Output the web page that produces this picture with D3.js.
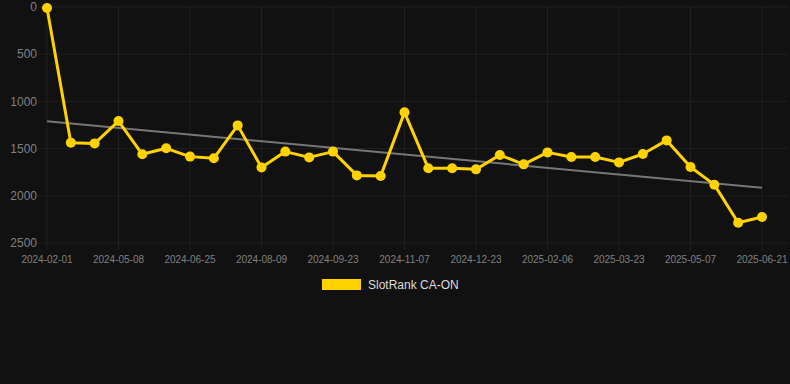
<!DOCTYPE html>
<html>
<head>
<meta charset="utf-8">
<script src="https://cdn.jsdelivr.net/npm/d3@7"></script>
<style>
  body { margin: 0; background: #111111; }
  svg { display: block; font-family: "Liberation Sans", Arial, sans-serif; }
</style>
</head>
<body>
<div id="chart"></div>
<script>
// dates (one point every ~15 days), labels shown every 3rd point
const dates = [
  "2024-02-01", "2024-03-04", "2024-04-06", "2024-05-08", "2024-05-24", "2024-06-09",
  "2024-06-25", "2024-07-10", "2024-07-25", "2024-08-09", "2024-08-24", "2024-09-08",
  "2024-09-23", "2024-10-08", "2024-10-23", "2024-11-07", "2024-11-22", "2024-12-08",
  "2024-12-23", "2025-01-07", "2025-01-22", "2025-02-06", "2025-02-21", "2025-03-08",
  "2025-03-23", "2025-04-07", "2025-04-22", "2025-05-07", "2025-05-22", "2025-06-06",
  "2025-06-21"
];
const rank = [
  10, 1437, 1445, 1208, 1560, 1497, 1585, 1603, 1254, 1699, 1532, 1593, 1532, 1784,
  1790, 1116, 1709, 1709, 1720, 1568, 1667, 1540, 1589, 1589, 1646, 1557, 1413, 1695,
  1882, 2285, 2225
];
const yTicks = [0, 500, 1000, 1500, 2000, 2500];
const seriesName = "SlotRank CA-ON";

const W = 790, H = 384;
const plot = {left: 47, right: 762, top: 7, bottom: 243};
const gold = "#ffd200";

const svg = d3.select("#chart").append("svg")
    .attr("width", W).attr("height", H);

svg.append("rect").attr("width", W).attr("height", H).attr("fill", "#111111");

const x = d3.scalePoint().domain(dates).range([plot.left, plot.right]);
const y = d3.scaleLinear().domain([0, 2500]).range([plot.top, plot.bottom]);

const labelDates = dates.filter((d, i) => i % 3 === 0);

// grid
svg.append("g").selectAll("line").data(yTicks).enter().append("line")
    .attr("x1", 38).attr("x2", 788)
    .attr("y1", d => y(d)).attr("y2", d => y(d))
    .attr("stroke", "#1f1f1f").attr("stroke-width", 1);

svg.append("g").selectAll("line").data(labelDates).enter().append("line")
    .attr("x1", d => x(d)).attr("x2", d => x(d))
    .attr("y1", plot.top).attr("y2", plot.bottom + 7)
    .attr("stroke", "#1f1f1f").attr("stroke-width", 1);

// y labels
svg.append("g").selectAll("text").data(yTicks).enter().append("text")
    .attr("x", 37).attr("y", d => y(d))
    .attr("dy", "0.35em")
    .attr("text-anchor", "end")
    .attr("fill", "#808080")
    .style("font-size", "12px")
    .text(d => d);

// x labels
svg.append("g").selectAll("text").data(labelDates).enter().append("text")
    .attr("x", d => x(d)).attr("y", 259)
    .attr("dy", "0.35em")
    .attr("text-anchor", "middle")
    .attr("fill", "#808080")
    .style("font-size", "10px")
    .text(d => d);

// trend line (least squares over index)
const n = rank.length;
const mx = d3.mean(rank, (d, i) => i);
const my = d3.mean(rank);
let sxy = 0, sxx = 0;
rank.forEach((v, i) => { sxy += (i - mx) * (v - my); sxx += (i - mx) * (i - mx); });
const slope = sxy / sxx, icpt = my - slope * mx;

svg.append("line")
    .attr("x1", x(dates[0])).attr("y1", y(icpt))
    .attr("x2", x(dates[n - 1])).attr("y2", y(icpt + slope * (n - 1)))
    .attr("stroke", "#777777").attr("stroke-width", 2);

// series
const line = d3.line()
    .x((d, i) => x(dates[i]))
    .y(d => y(d));

svg.append("path").datum(rank)
    .attr("d", line)
    .attr("fill", "none")
    .attr("stroke", gold)
    .attr("stroke-width", 3)
    .attr("stroke-linejoin", "round");

svg.append("g").selectAll("circle").data(rank).enter().append("circle")
    .attr("cx", (d, i) => x(dates[i]))
    .attr("cy", d => y(d))
    .attr("r", 5)
    .attr("fill", gold);

// legend
svg.append("rect")
    .attr("x", 322).attr("y", 279).attr("width", 39).attr("height", 11)
    .attr("fill", gold);
svg.append("text")
    .attr("x", 368).attr("y", 285).attr("dy", "0.35em")
    .attr("fill", "#dddddd")
    .style("font-size", "12px")
    .text(seriesName);
</script>
</body>
</html>
